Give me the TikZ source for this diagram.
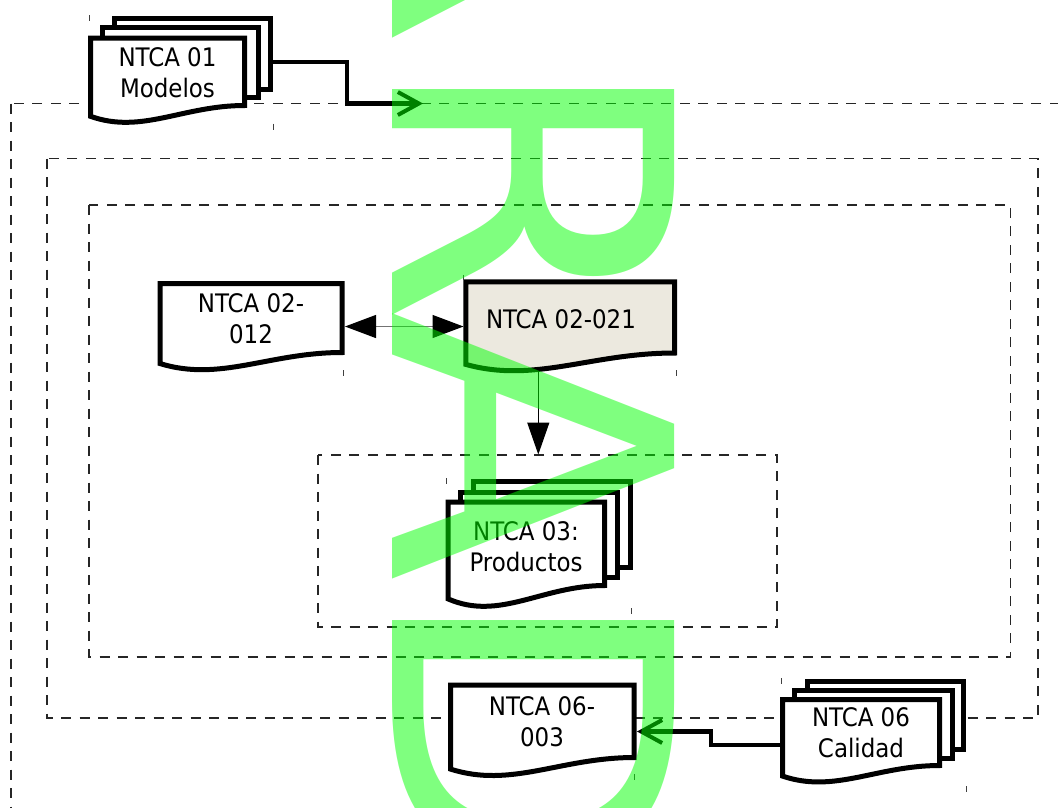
\documentclass[tikz,border=0pt]{standalone}
\usepackage{fontspec}
\usetikzlibrary{arrows.meta}
\newfontfamily\docfont{DejaVu Sans Condensed}
\newfontfamily\stampfont{DejaVu Sans}
\definecolor{shapefill}{RGB}{236,233,223}

% Document sheet with a wavy bottom edge: #2 left, #3 top, #4 right, #5 bottom at the right side
\newcommand{\sheetdoc}[5][white]{%
  \pgfmathsetmacro{\sdW}{#4-#2}%
  \pgfmathsetmacro{\sdH}{#5-#3}%
  \pgfmathsetmacro{\sdAx}{#4-0.4*\sdW}%
  \pgfmathsetmacro{\sdBx}{#2+0.33*\sdW}%
  \pgfmathsetmacro{\sdBy}{#5+0.43*\sdH}%
  \pgfmathsetmacro{\sdLy}{#5+0.16*\sdH}%
  \draw[docline,fill=#1] (#2,\sdLy) -- (#2,#3) -- (#4,#3) -- (#4,#5)
     .. controls (\sdAx,#5) and (\sdBx,\sdBy) .. (#2,\sdLy) -- cycle;
}
% Sheet lying behind the front one in a stack
\newcommand{\sheetback}[4]{\draw[docline,fill=white] (#1,#2) rectangle (#3,#4);}

\begin{document}
\begin{tikzpicture}[x=1pt,y=-1pt,
  docline/.style={line width=5pt,line join=miter},
  frame/.style={line width=1.2pt,black!85,dash pattern=on 10pt off 8.5pt},
  doctext/.style={align=center,inner sep=0pt,font=\docfont\fontsize{25.5}{30.7}\selectfont},
  flow/.style={line width=4.8pt,line join=miter},
  barb/.style={-{Straight Barb[length=21pt,width=23pt,line width=4pt]}},
  thinlink/.style={line width=1.2pt},
  tick/.style={line width=1pt,black!75},
  stamp/.style={anchor=base west,rotate=-90,xscale=1.027,inner sep=0pt,text=green,text opacity=0.5,
    font=\stampfont\fontsize{387}{387}\selectfont}]

\useasboundingbox (0,0) rectangle (1058,807);
\clip (0,0) rectangle (1058,807);

% nested dashed frames
\draw[frame] (11,103.5) rectangle (1120,860);
\draw[frame] (47,158.5) rectangle (1038,718);
\draw[frame] (89,205) rectangle (1010.5,657);
\draw[frame] (318,455) rectangle (777,627);

% NTCA 01 stack
\sheetback{114.5}{18}{270}{89}
\sheetback{102}{27.5}{258}{97.5}
\sheetdoc{90.5}{38}{244.5}{105.5}
\node[doctext] (m01) at (167.5,72.5) {NTCA 01\\Modelos};

% NTCA 02-012
\sheetdoc{160}{283.5}{342}{352.5}
\node[doctext] (d012) at (251,318.5) {NTCA 02-\\012};

% NTCA 02-021
\sheetdoc[shapefill]{465.8}{281.8}{674.5}{353}
\node[doctext] (d021) at (561,319.5) {NTCA 02-021};

% NTCA 03 stack
\sheetback{473.5}{481}{630}{567.5}
\sheetback{460.8}{492.5}{617}{577.5}
\sheetdoc{448}{502}{604.5}{585.5}
\node[doctext] (m03) at (526,547) {NTCA 03:\\Productos};

% NTCA 06-003
\sheetdoc{450.5}{685.2}{634.2}{757.5}
\node[doctext] (d063) at (542,722) {NTCA 06-\\003};

% NTCA 06 stack
\sheetback{807.5}{681.5}{963.5}{749}
\sheetback{794.5}{690}{952}{758}
\sheetdoc{782.5}{699.5}{939.5}{765.5}
\node[doctext] (m06) at (861,733) {NTCA 06\\Calidad};

% connector end points
\coordinate (m01-out) at (270,62);
\coordinate (frame-in) at (423,103.5);
\coordinate (m06-out) at (782.5,745);
\coordinate (d063-in) at (637,731.5);
\coordinate (d012-e) at (345,326.5);
\coordinate (d021-w) at (463.5,326.5);
\coordinate (d021-s) at (538.3,371);
\coordinate (inner-n) at (538.3,454.5);

% connectors
\draw[flow,barb] (m01-out) -- ++(77,0) |- (frame-in);
\draw[flow,barb] (m06-out) -- ++(-71.5,0) |- (d063-in);
\draw[thinlink,black!55,{Triangle[length=31pt,width=23pt,black]}-{Triangle[length=31pt,width=23pt,black]}] (d012-e) -- (d021-w);
\draw[thinlink,black,-{Triangle[length=32pt,width=22pt]}] (d021-s) -- (inner-n);

% selection corner marks
\draw[tick] (89.5,15) -- ++(0,6);
\draw[tick] (273,123.5) -- ++(0,6);
\draw[tick] (343.5,370) -- ++(0,6);
\draw[tick] (463.3,275) -- ++(0,5);
\draw[tick] (676.7,370) -- ++(0,6);
\draw[tick] (446.6,478) -- ++(0,6);
\draw[tick] (631,608) -- ++(0,6);
\draw[tick] (634.5,774) -- ++(0,6);
\draw[tick] (781.5,678) -- ++(0,6);
\draw[tick] (966.5,786) -- ++(0,6);

% watermark
\node[stamp] (draftmark) at (392,-805) {BORRADOR};
\end{tikzpicture}
\end{document}
